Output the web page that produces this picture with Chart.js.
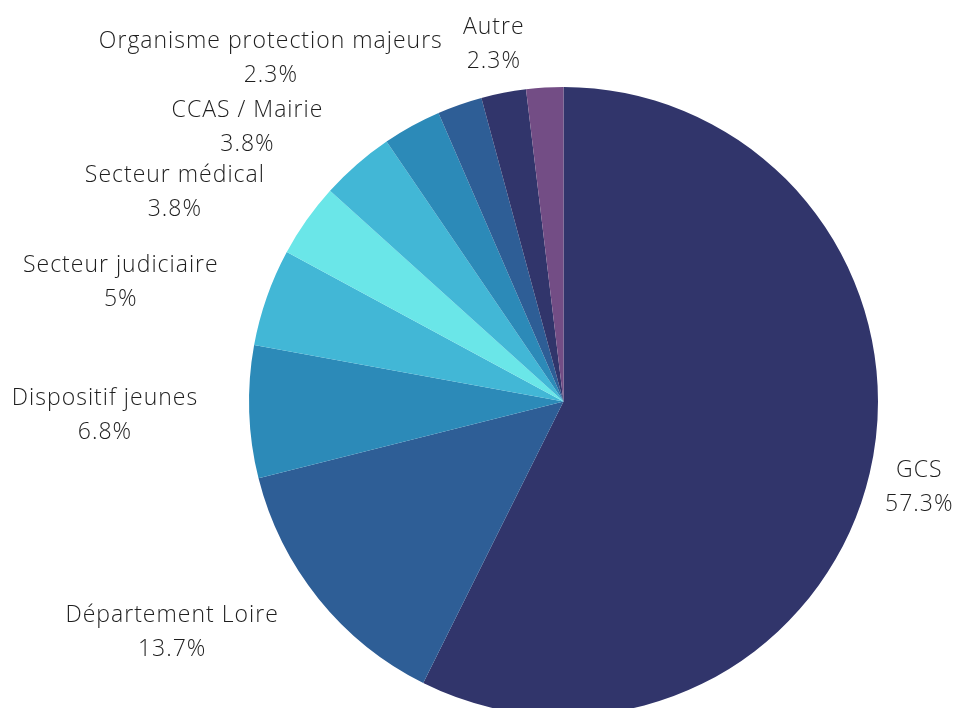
<!DOCTYPE html>
<html lang="fr">
<head>
<meta charset="utf-8">
<script src="https://cdn.jsdelivr.net/npm/chart.js@4.4.0/dist/chart.umd.min.js"></script>
<style>
  html, body { margin: 0; padding: 0; background: #fff; overflow: hidden; }
  #wrap { position: relative; width: 953px; height: 740px; }
</style>
</head>
<body>
<div id="wrap"><canvas id="pie"></canvas></div>
<script>
// --- DONNÉES ---
const categories = ['GCS', 'Département Loire', 'Dispositif jeunes', 'Secteur judiciaire', 'Secteur médical',
                    'CCAS / Mairie', 'Famille / entourage', 'Organisme protection majeurs', 'Autre', 'Non renseigné'];
const shares = [57.3, 13.7, 6.8, 5, 3.8, 3.8, 3.0, 2.3, 2.3, 1.9];
const sliceColors = ['#31356b', '#2e5e96', '#2c8ab8', '#42b7d6', '#6ae6e8',
                     '#42b7d6', '#2c8ab8', '#2e5e96', '#31356b', '#734d85'];

// --- STYLE DES ÉTIQUETTES ---
const FONT_SIZE = 23;
const LINE_GAP = 34;      // distance entre les deux lignes
const LABEL_OFFSET = 51;  // distance au bord du disque

function fmtPct(v) {
    return v.toLocaleString('en-US', { maximumFractionDigits: 1 }) + '%';
}

// étiquettes extérieures, masquées si elles se chevauchent
const outsideLabels = {
    id: 'outsideLabels',
    afterDatasetsDraw(chart) {
        const ctx = chart.ctx;
        const arcs = chart.getDatasetMeta(0).data;
        const placed = [];
        ctx.save();
        ctx.font = `300 ${FONT_SIZE}px "Open Sans", Lato, sans-serif`;
        ctx.letterSpacing = '1px';
        ctx.fillStyle = '#1e1e1e';
        ctx.textAlign = 'center';
        ctx.textBaseline = 'alphabetic';
        arcs.forEach((arc, i) => {
            const mid = (arc.startAngle + arc.endAngle) / 2;
            const r = arc.outerRadius + LABEL_OFFSET;
            const ax = arc.x + Math.cos(mid) * r;
            const ay = arc.y + Math.sin(mid) * r;
            const lines = [categories[i], fmtPct(shares[i])];
            const w = Math.max(...lines.map(l => ctx.measureText(l).width));
            const h = LINE_GAP + FONT_SIZE;
            const left = Math.cos(mid) < -0.25 ? ax - w : ax - w / 2;
            const box = { x1: left, x2: left + w, y1: ay - h / 2, y2: ay + h / 2 };
            const hit = placed.some(b => b.x1 < box.x2 && box.x1 < b.x2 && b.y1 < box.y2 && box.y1 < b.y2);
            if (hit) return;
            placed.push(box);
            const cx = left + w / 2;
            const capShift = FONT_SIZE * 0.36;
            ctx.fillText(lines[0], cx, ay - LINE_GAP / 2 + capShift);
            ctx.fillText(lines[1], cx, ay + LINE_GAP / 2 + capShift);
        });
        ctx.restore();
    }
};

new Chart(document.getElementById('pie'), {
    type: 'pie',
    data: {
        labels: categories,
        datasets: [{
            data: shares,
            backgroundColor: sliceColors,
            borderWidth: 0
        }]
    },
    options: {
        responsive: true,
        maintainAspectRatio: false,
        animation: false,
        layout: { padding: { top: 87, bottom: 24, left: 249, right: 75 } },
        plugins: { legend: { display: false }, tooltip: { enabled: false } }
    },
    plugins: [outsideLabels]
});
</script>
</body>
</html>
